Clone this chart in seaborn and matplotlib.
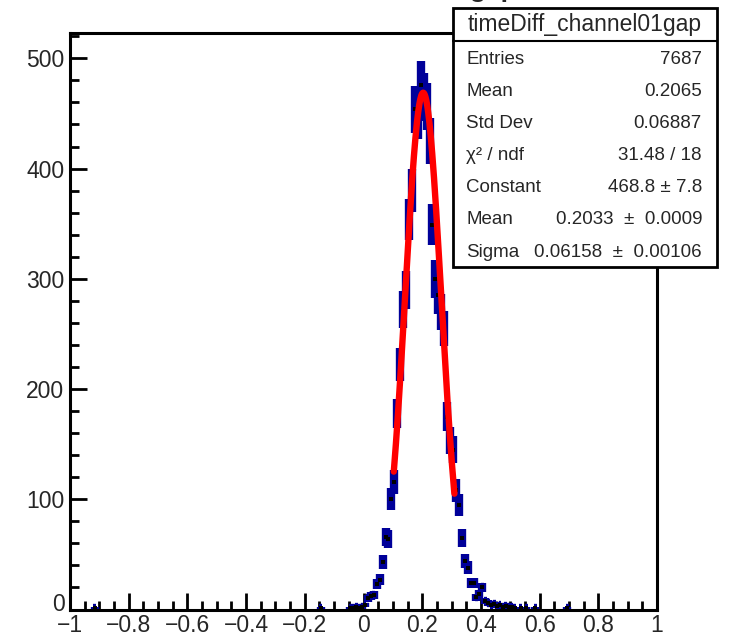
import numpy as np
import pandas as pd
import seaborn as sns
import matplotlib
matplotlib.use("Agg")
import matplotlib.pyplot as plt
import matplotlib.transforms as mtransforms
from matplotlib.ticker import MultipleLocator, FixedLocator, FixedFormatter
from matplotlib.patches import Rectangle
from matplotlib.lines import Line2D

# histogram timeDiff_channel01gap, bins of 0.01 (only the filled ones)
bin_centers = [-0.915, -0.145, -0.045, -0.035, -0.025, -0.015, -0.005,
               0.005, 0.015, 0.025, 0.035, 0.045, 0.055, 0.065, 0.075, 0.085, 0.095,
               0.105, 0.115, 0.125, 0.135, 0.145, 0.155, 0.165, 0.175, 0.185, 0.195,
               0.205, 0.215, 0.225, 0.235, 0.245, 0.255, 0.265, 0.275, 0.285, 0.295,
               0.305, 0.315, 0.325, 0.335, 0.345, 0.355, 0.365, 0.375, 0.385, 0.395,
               0.405, 0.415, 0.425, 0.435, 0.445, 0.455, 0.465, 0.475, 0.485, 0.495,
               0.505, 0.515, 0.535, 0.555, 0.585, 0.695]
counts = [1, 1, 1, 1, 2, 1, 2,
          4, 10, 12, 13, 23, 27, 43, 66, 64, 100,
          116, 178, 222, 272, 290, 354, 380, 454, 448, 476,
          465, 456, 425, 349, 300, 285, 270, 255, 175, 153,
          145, 108, 95, 65, 44, 38, 24, 24, 11, 14,
          20, 8, 6, 4, 5, 3, 4, 2, 3, 2,
          2, 1, 1, 1, 1, 1]
bin_width = 0.01

# gaussian fit result (from the stats box)
fit_const = 468.8
fit_mean = 0.2033
fit_sigma = 0.06158
fit_range = (0.1032, 0.3098)

xticks = [-1, -0.8, -0.6, -0.4, -0.2, 0, 0.2, 0.4, 0.6, 0.8, 1]
xtick_labels = ["\u22121", "\u22120.8", "\u22120.6", "\u22120.4", "\u22120.2",
                "0", "0.2", "0.4", "0.6", "0.8", "1"]
yticks = [0, 100, 200, 300, 400, 500]
ytick_labels = ["0", "100", "200", "300", "400", "500"]

hist_title = "timeDiff_channel01gap"
stats_labels = ["Entries", "Mean", "Std Dev", "\u03c7\u00b2 / ndf", "Constant", "Mean", "Sigma"]
stats_values = ["7687", "0.2065", "0.06887", "31.48 / 18",
                "468.8 \u00b1 7.8", "0.2033  \u00b1  0.0009", "0.06158  \u00b1  0.00106"]

sns.set_style("ticks")
plt.rcParams["font.family"] = ["Liberation Sans", "DejaVu Sans"]

df = pd.DataFrame({"x": bin_centers, "n": counts})
df["err"] = np.sqrt(df["n"])

fig = plt.figure(figsize=(7.32, 6.36), dpi=100)
ax = fig.add_axes([70 / 732, 1 - 609.5 / 636, 587 / 732, 576.5 / 636])

ax.errorbar(df["x"], df["n"], xerr=bin_width / 2, yerr=df["err"], fmt="none",
            ecolor="#000099", elinewidth=6, capsize=0, zorder=2)
sns.scatterplot(data=df, x="x", y="n", marker="s", s=5, color="black",
                linewidth=0, ax=ax, zorder=3)

xf = np.linspace(fit_range[0], fit_range[1], 200)
yf = fit_const * np.exp(-0.5 * ((xf - fit_mean) / fit_sigma) ** 2)
sns.lineplot(x=xf, y=yf, color="red", linewidth=4.6, ax=ax, zorder=4)

ax.set_xlim(-1, 1)
ax.set_ylim(0, 523)
ax.set_xlabel("")
ax.set_ylabel("")
ax.xaxis.set_major_locator(FixedLocator(xticks))
ax.xaxis.set_major_formatter(FixedFormatter(xtick_labels))
ax.yaxis.set_major_locator(FixedLocator(yticks))
ax.yaxis.set_major_formatter(FixedFormatter(ytick_labels))
ax.xaxis.set_minor_locator(MultipleLocator(0.05))
ax.yaxis.set_minor_locator(MultipleLocator(20))
ax.tick_params(which="both", direction="in", width=2, top=False, right=False,
               labelsize=16.5, color="black")
ax.tick_params(which="major", length=12.5)
ax.tick_params(which="minor", length=6.5)
ax.tick_params(axis="x", pad=3.5)
ax.tick_params(axis="y", pad=4)
for s in ax.spines.values():
    s.set_linewidth(2.2)
    s.set_color("black")
    s.set_visible(True)

# lift the "0" on the y axis a little, as ROOT does, so it clears the "-1"
fig.canvas.draw()
ylab0 = ax.get_yticklabels()[0]
ylab0.set_transform(ylab0.get_transform() +
                    mtransforms.ScaledTranslation(0, 7.5 / 100, fig.dpi_scale_trans))

# histogram title, almost entirely above the canvas / behind the stats box
fig.text(517 / 732, 1 + 2.5 / 636, hist_title, ha="right", va="baseline",
         fontsize=19, fontweight="bold", zorder=1)

# stats box
bx0, bx1, by0, by1 = 453, 717, 7.5, 267
fig.patches.append(Rectangle((bx0 / 732, 1 - by1 / 636), (bx1 - bx0) / 732, (by1 - by0) / 636,
                             transform=fig.transFigure, facecolor="white",
                             edgecolor="black", linewidth=2, zorder=10))
fig.lines.append(Line2D([bx0 / 732, bx1 / 732], [1 - 41 / 636, 1 - 41 / 636],
                        transform=fig.transFigure, color="black", linewidth=1.5, zorder=11))
fig.text((bx0 + bx1) / 2 / 732, 1 - 24 / 636, hist_title, ha="center", va="center",
         fontsize=16.5, zorder=12)
for i, (lab, val) in enumerate(zip(stats_labels, stats_values)):
    yb = 1 - (63.5 + 32.2 * i) / 636
    fig.text(466.5 / 732, yb, lab, ha="left", va="baseline", fontsize=13.5, zorder=12)
    fig.text(702 / 732, yb, val, ha="right", va="baseline", fontsize=13.5, zorder=12)

fig.savefig("out.png", dpi=100)
